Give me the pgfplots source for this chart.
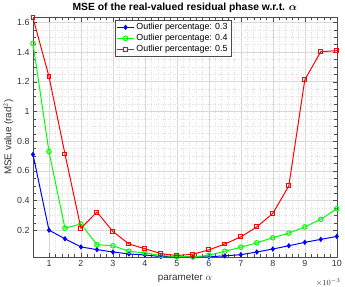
\documentclass[border=0pt]{standalone}
\usepackage{amsmath}
\usepackage{pgfplots}
\pgfplotsset{compat=1.18}
\usepackage{fontspec}
\setmainfont{Liberation Sans}
\definecolor{mred}{rgb}{1,0,0}
\begin{document}
\begin{tikzpicture}
\begin{axis}[
  scale only axis,
  width=307bp, height=242bp,
  xmin=0.5, xmax=10, ymin=0.02, ymax=1.633,
  xtick={1,2,...,10},
  ytick={0.2,0.4,0.6,0.8,1,1.2,1.4,1.6},
  yticklabels={0.2,0.4,0.6,0.8,1,1.2,1.4,1.6},
  minor x tick num=4, minor y tick num=3,
  grid=both,
  major grid style={gray!30, line width=0.4pt},
  minor grid style={gray!25, dotted, line width=0.4pt},
  tick align=inside,
  tick style={black!70},
  axis line style={black!70},
  clip mode=individual,
  ticklabel style={font=\fontsize{9}{10}\selectfont, text=black!80},
  /pgf/number format/assume math mode=true,
  title={\bfseries MSE of the real-valued residual phase w.r.t. $\boldsymbol{\alpha}$},
  title style={font=\fontsize{10.5}{12}\selectfont, yshift=-5pt},
  xlabel={parameter $\alpha$},
  ylabel={MSE value (rad$^2$)},
  label style={font=\fontsize{10}{11}\selectfont, text=black!80},
  xlabel style={yshift=-1pt},
  ylabel style={yshift=-3pt},
  legend style={at={(0.27,0.99)}, anchor=north west, font=\fontsize{9}{11}\selectfont, draw=black!70, inner sep=1.5pt, row sep=-1pt, cells={anchor=west}},
  legend cell align=left,
]
\addplot[color=blue, line width=1pt, mark=diamond*, mark size=2pt, mark options={solid, fill=blue, draw=blue}] coordinates {
(0.5,0.71)(1,0.20)(1.5,0.142)(2,0.087)(2.5,0.069)(3,0.053)(3.5,0.040)(4,0.033)(4.5,0.022)(5,0.020)
(5.5,0.020)(6,0.021)(6.5,0.027)(7,0.035)(7.5,0.053)(8,0.073)(8.5,0.095)(9,0.118)(9.5,0.138)(10,0.158)};
\addlegendentry{Outlier percentage: 0.3}
\addplot[color=green, line width=1pt, mark=o, mark size=2.3pt, mark options={solid, draw=green}] coordinates {
(0.5,1.458)(1,0.729)(1.5,0.213)(2,0.242)(2.5,0.102)(3,0.095)(3.5,0.058)(4,0.047)(4.5,0.029)(5,0.022)
(5.5,0.020)(6,0.031)(6.5,0.058)(7,0.085)(7.5,0.115)(8,0.149)(8.5,0.180)(9,0.222)(9.5,0.273)(10,0.345)};
\addlegendentry{Outlier percentage: 0.4}
\addplot[draw=mred, line width=1pt, mark=square, mark size=2pt, every mark/.append style={solid, draw=mred, fill=none},
  legend image code/.code={
    \draw[draw=mred, line width=1pt] (0cm,0cm) -- (0.6cm,0cm);
    \draw[draw=mred, fill=white, line width=1pt] (0.3cm,0cm) +(-2pt,-2pt) rectangle +(2pt,2pt);
  }] coordinates {
(0.5,1.63)(1,1.235)(1.5,0.713)(2,0.213)(2.5,0.322)(3,0.191)(3.5,0.107)(4,0.075)(4.5,0.042)(5,0.029)
(5.5,0.038)(6,0.067)(6.5,0.107)(7,0.155)(7.5,0.222)(8,0.313)(8.5,0.498)(9,1.213)(9.5,1.402)(10,1.409)};
\addlegendentry{Outlier percentage: 0.5}
\node[anchor=north east, font=\fontsize{8}{9}\selectfont, text=black!80, inner sep=0pt] at ([yshift=-22pt,xshift=4pt]rel axis cs:1,0) {$\times 10^{-3}$};
\end{axis}
\end{tikzpicture}
\end{document}
